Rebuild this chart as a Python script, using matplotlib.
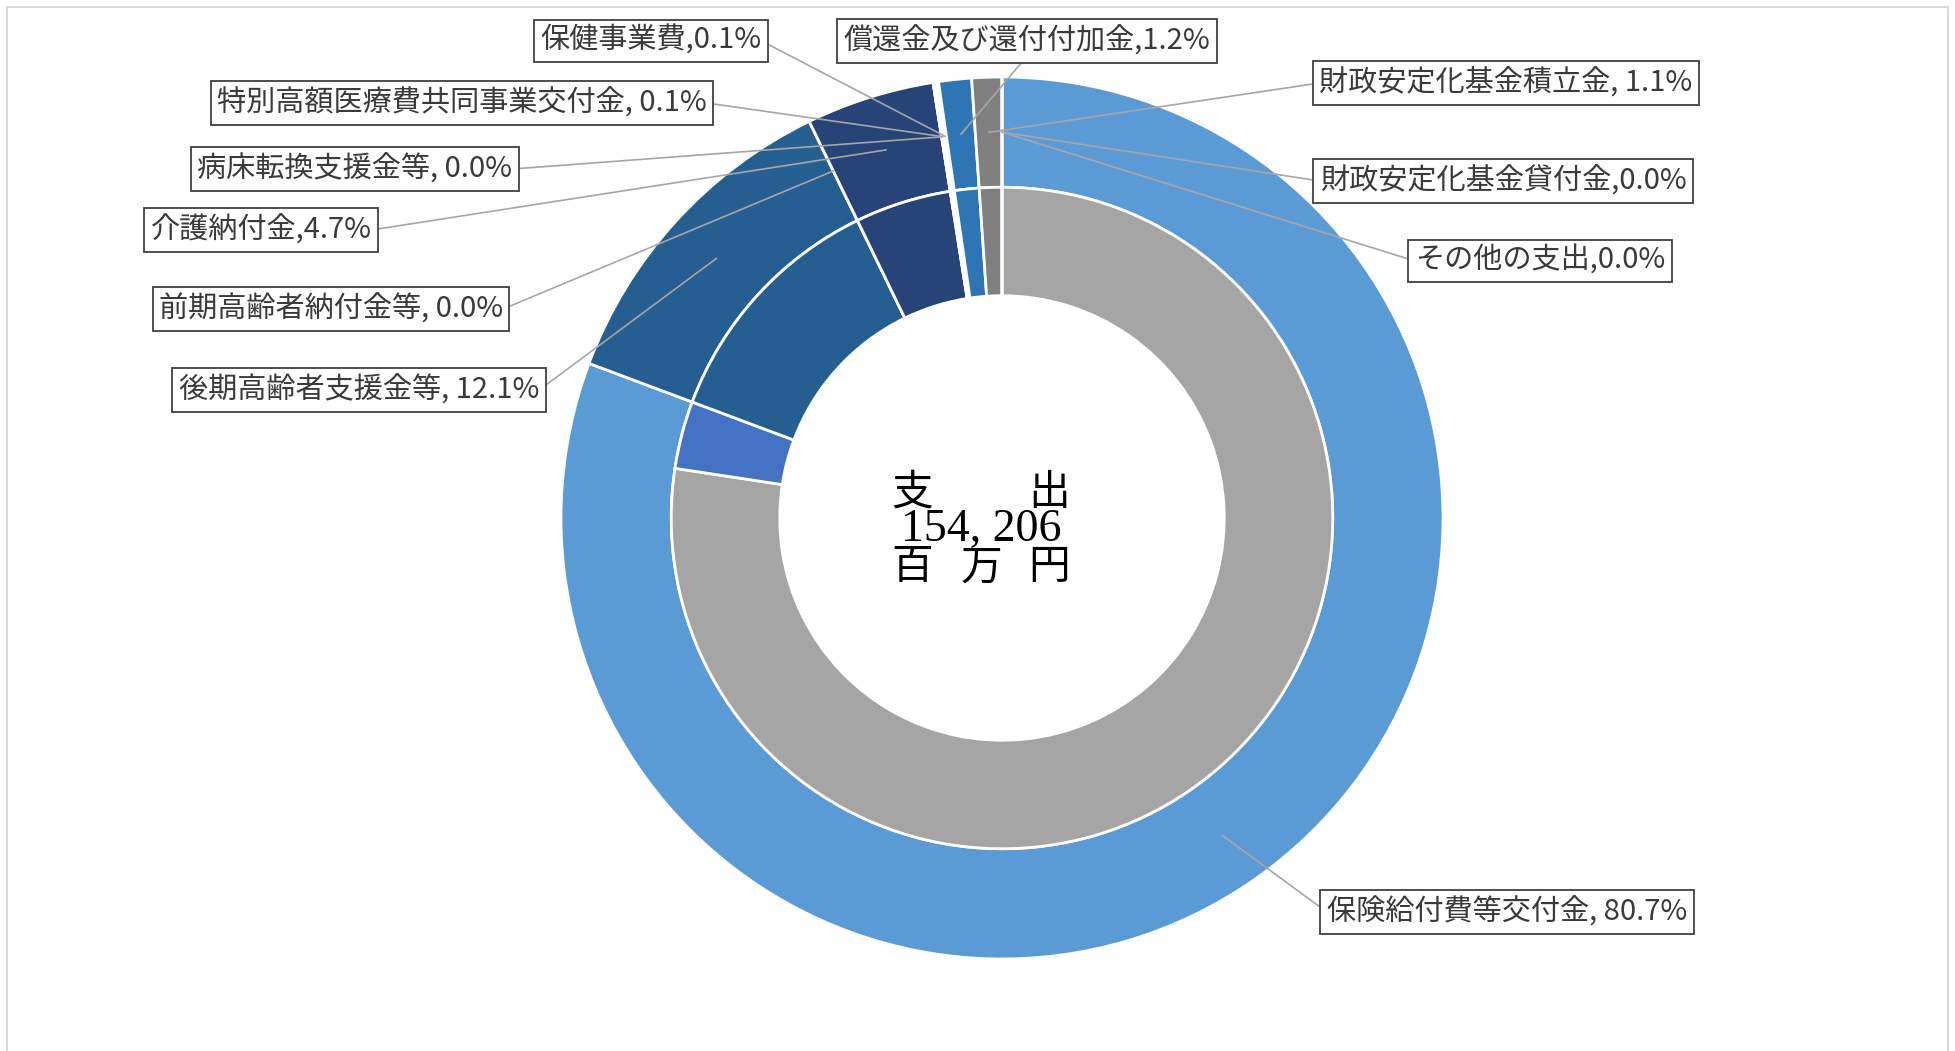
import numpy as np
import matplotlib
matplotlib.use("Agg")
import matplotlib.pyplot as plt
from matplotlib.patches import Rectangle

plt.rcParams['font.family'] = ['Noto Sans CJK JP', 'DejaVu Sans']

# 外側: 支出の内訳 (%)
labels = ['保険給付費等交付金', '後期高齢者支援金等', '前期高齢者納付金等', '介護納付金',
          '病床転換支援金等', '特別高額医療費共同事業交付金', '保健事業費',
          '償還金及び還付付加金', '財政安定化基金積立金', '財政安定化基金貸付金', 'その他の支出']
outer_vals = [80.7, 12.1, 0.0, 4.7, 0.0, 0.1, 0.1, 1.2, 1.1, 0.0, 0.0]
seps = [', ', ', ', ', ', ',', ', ', ', ', ',', ',', ', ', ',', ',']

# 内側: 保険給付費等交付金を2つに分けたもの
inner_vals = [77.4, 3.3, 12.1, 0.0, 4.7, 0.0, 0.1, 0.1, 1.2, 1.1, 0.0, 0.0]

total_text = '154, 206'

outer_colors = ['#5B9BD5', '#255E91', '#255E91', '#264478', '#264478', '#DEEBF7',
                '#DEEBF7', '#2E75B6', '#808080', '#808080', '#808080']
inner_colors = ['#A5A5A5', '#4472C4'] + outer_colors[1:]

W, H = 1956, 1051
cx, cy, R = 1002, 518, 441   # pie centre / radius in pixels

fig = plt.figure(figsize=(W / 100, H / 100), dpi=100)
ax = fig.add_axes([0, 0, 1, 1])

wp = dict(edgecolor='white', linewidth=2)
ax.pie(outer_vals, radius=1.0, colors=outer_colors, startangle=90, counterclock=False,
       wedgeprops=dict(width=0.25, **wp))
ax.pie(inner_vals, radius=0.75, colors=inner_colors, startangle=90, counterclock=False,
       wedgeprops=dict(width=0.246, **wp))

ax.set_xlim(-cx / R, (W - cx) / R)
ax.set_ylim(-(H - cy) / R, cy / R)
ax.set_aspect('equal')
ax.axis('off')


def fpos(x, y):
    # pixel position (from top-left) -> figure fraction
    return x / W, 1 - y / H


# label box centres (pixels) and which side the leader leaves from
box_pos = [(1507, 912), (359, 390), (331, 309), (261, 230), (355, 169), (462, 103),
           (651, 41), (1027, 41), (1506, 83), (1503, 181), (1540, 261)]
relpos = [(0, 0.5), (1, 0.5), (1, 0.5), (1, 0.5), (1, 0.5), (1, 0.5),
          (1, 0.5), (0.5, 0), (0, 0.5), (0, 0.5), (0, 0.5)]

cum = np.concatenate([[0], np.cumsum(outer_vals)])
for i, lab in enumerate(labels):
    mid = cum[i] + outer_vals[i] / 2
    ang = np.deg2rad(90 - mid * 3.6)
    px, py = 0.875 * np.cos(ang), 0.875 * np.sin(ang)
    txt = f'{lab}{seps[i]}{outer_vals[i]:.1f}%'
    ax.annotate(txt, xy=(px, py), xytext=fpos(*box_pos[i]), textcoords='figure fraction',
                ha='center', va='center', fontsize=21, color='#3A3A3A',
                bbox=dict(boxstyle='square,pad=0.22', fc='white', ec='#404040', lw=1.3),
                arrowprops=dict(arrowstyle='-', color='#A6A6A6', lw=1.2,
                                shrinkA=0, shrinkB=0, relpos=relpos[i]))

# centre text
serif = ['Liberation Serif', 'DejaVu Serif']
for ch, (x, y) in zip('支出百万円', [(912, 493), (1049, 493), (912, 568), (981, 568), (1049, 568)]):
    fig.text(*fpos(x, y), ch, ha='center', va='center', fontsize=30, color='black')
fig.text(*fpos(981, 530), total_text, ha='center', va='center', fontsize=33,
         color='black', family=serif)

fig.patches.append(Rectangle((7 / W, -0.02), (1948 - 7) / W, 1.02 - 7 / H,
                             transform=fig.transFigure, fill=False,
                             ec='#D9D9D9', lw=1.5))

fig.savefig('out.png', dpi=100)
